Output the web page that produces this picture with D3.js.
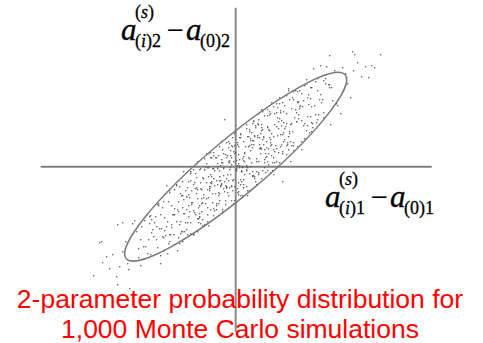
<!DOCTYPE html>
<html>
<head>
<meta charset="utf-8">
<script src="https://cdn.jsdelivr.net/npm/d3@7"></script>
<style>
  html, body { margin: 0; padding: 0; background: #fff; }
  svg { display: block; }
</style>
</head>
<body>
<svg id="chart"></svg>
<script>
/* eslint-disable */

// deviations of the simulated parameters from the reference values
// [a(i)1 - a(0)1, a(i)2 - a(0)2]
var simulations = [
  [0,-3],[-4,9],[3,-16],[-2,5],[6,-4],[-7,19],[1,0],[8,-21],[-5,11],[4,7],[-9,-20],[2,22],
  [7,0],[-3,29],[5,-18],[-6,4],[9,5],[-1,-34],[-8,11],[3,3],[-2,-13],[5,32],[-4,-19],[1,6],
  [7,-1],[-6,6],[2,-22],[-3,20],[8,6],[-9,-21],[0,36],[4,-1],[-1,13],[6,-15],[-5,-1],[3,-28],
  [3,20],[11,1],[18,22],[5,-13],[14,35],[1,-4],[12,-29],[17,26],[7,8],[15,0],[4,29],[19,-10],
  [9,13],[2,1],[13,20],[8,-13],[15,28],[6,-5],[11,38],[17,-10],[4,1],[12,30],[7,-29],[18,46],
  [1,-2],[10,20],[14,-7],[9,14],[16,4],[5,29],[13,9],[3,-25],[19,30],[8,10],[11,-4],
  [-12,-22],[-5,16],[-14,-17],[-9,24],[-3,-24],[-16,-4],[-8,-8],[-13,-43],[-2,15],[-19,-14],
  [-10,-19],[-6,23],[-11,-25],[-4,2],[-15,-19],[-7,5],[-17,-37],[-1,21],[-12,-9],[-9,-21],
  [-14,25],[-5,-8],[-18,0],[-8,-26],[-16,-10],[-10,-38],[-14,7],[-7,-14],[-12,-1],[-4,-20],
  [-17,11],[-9,-12],[-2,-37],[-15,1],[-6,-3],
  [11,-3],[22,43],[27,-4],[17,19],[25,19],[14,21],[29,4],[19,31],[12,-1],[23,47],[18,-9],
  [25,18],[16,34],[21,-18],[27,55],[14,8],[22,29],[17,-5],[28,29],[11,0],[20,41],[24,18],
  [19,-12],[26,36],[15,16],[23,5],[13,30],[29,17],[18,45],[21,-5],[16,22],[26,18],[12,-24],
  [-26,-24],[-18,-2],[-23,-36],[-12,-2],[-29,-32],[-20,9],[-16,-14],[-21,-44],[-14,4],[-25,-16],
  [-17,-26],[-27,-1],[-11,-15],[-22,14],[-19,-37],[-24,-15],[-15,-14],[-28,-55],[-18,3],[-26,-20],
  [-20,-27],[-24,9],[-17,-29],[-22,-12],[-14,-18],[-27,-10],[-19,-39],[-12,13],[-25,-20],
  [-16,-27],[-29,13],[-18,-18],[-13,4],
  [30,13],[34,55],[29,7],[36,33],[25,13],[33,37],[23,-6],[39,53],[28,22],[31,10],[26,57],
  [35,24],[22,31],[32,5],[24,22],[30,-6],[26,39],[33,18],[28,30],[36,11],[23,42],[31,19],
  [38,-8],[25,33],[34,29],[21,5],[32,51],[37,4],[27,27],[35,27],[24,29],
  [-30,0],[-34,-32],[-27,-59],[-32,-12],[-24,-17],[-37,-41],[-29,3],[-22,-42],[-35,-22],
  [-26,-22],[-39,-21],[-28,-41],[-23,-2],[-33,-36],[-25,9],[-36,-51],[-21,-19],[-31,-3],
  [-38,-65],[-27,13],[-32,-28],[-25,-8],[-34,-45],[-29,-16],[-23,-27],[-36,-3],[-28,-23],
  [-33,-53],[-22,-2],[-39,-27],[-30,-37],
  [34,52],[49,38],[39,4],[32,40],[43,38],[38,17],[45,56],[36,22],[41,63],[47,15],[34,36],
  [42,31],[37,-4],[48,55],[31,25],[40,21],[44,63],[39,15],[46,41],[35,21],[43,45],[33,2],
  [49,61],[38,30],[41,18],[36,64],[45,32],[32,39],
  [-40,-22],[-36,-47],[-41,-16],[-34,-37],[-45,-7],[-37,-52],[-47,-39],[-31,-3],[-42,-68],
  [-39,3],[-44,-38],[-35,-16],[-48,-56],[-38,-23],[-46,-45],[-40,-7],[-44,-36],[-37,-56],
  [-42,-18],[-34,-23],[-47,-50],[-39,-11],[-32,-31],[-45,-5],[-36,-50],[-49,-30],[-38,-32],
  [-33,-59],
  [50,40],[46,22],[53,78],[48,34],[56,58],[43,14],[51,43],[58,16],[45,54],[54,35],[41,40],
  [52,24],[57,69],[47,32],[55,5],[44,48],[59,49],[49,27],[42,59],[53,17],[48,44],[55,42],
  [46,46],[51,21],
  [-52,-47],[-45,-5],[-54,-65],[-49,-30],[-43,-36],[-56,-77],[-48,-21],[-53,-41],[-42,-44],
  [-59,-19],[-50,-56],[-46,-31],[-51,-47],[-44,-24],[-55,-67],[-47,-15],[-57,-45],[-41,-46],
  [-52,-5],[-49,-43],[-54,-29],[-45,-56],[-58,-43],[-48,-68],
  [63,52],[53,30],[69,81],[58,21],[61,54],[56,43],[65,61],[52,22],[62,65],[54,33],[60,76],
  [56,21],[63,48],[58,67],[66,17],[53,76],[61,45],[68,66],[55,25],[64,58],
  [-67,-35],[-59,-55],[-52,-33],[-65,-68],[-56,-20],[-69,-60],[-58,-84],[-53,-29],[-63,-48],
  [-55,-55],[-66,-26],[-51,-65],[-61,-42],[-68,-55],[-57,-35],[-62,-68],[-55,-27],[-64,-61],
  [-59,-18],[-53,-65],
  [61,45],[72,69],[77,43],[67,60],[75,50],[64,76],[79,61],[69,28],[62,64],[73,62],[68,41],
  [75,79],[66,46],[71,87],[77,39],[64,60],
  [-76,-62],[-68,-87],[-73,-41],[-62,-48],[-79,-73],[-70,-27],[-66,-68],[-71,-51],[-64,-58],
  [-75,-48],[-67,-77],[-77,-39],[-61,-48],[-72,-71],[-69,-19],[-74,-62],
  [76,44],[85,72],[72,50],[82,76],[74,34],[80,85],[76,60],[83,52],[78,98],[86,64],[73,72],[81,44],
  [-83,-63],[-75,-89],[-86,-50],[-71,-64],[-81,-56],[-88,-87],[-77,-37],[-82,-70],[-75,-97],
  [-84,-53],[-79,-60],[-73,-70],
  [93,82],[87,67],[95,42],[90,88],[84,67],[97,66],[91,100],[88,54],[94,79],
  [-92,-80],[-86,-57],[-95,-99],[-89,-48],[-84,-66],[-97,-91],[-91,-54],[-87,-73],[-94,-60],
  [102,61],[96,79],[105,53],[99,96],[108,77],[94,82],[101,63],
  [-103,-57],[-97,-82],[-106,-122],[-99,-65],[-95,-73],[-108,-97],[-101,-54],
  [112,83],[107,99],[115,69],[110,93],[118,96],
  [-113,-85],[-107,-103],[-116,-100],[-110,-75],[-118,-118],
  [122,104],[126,90],[119,112],[117,115],[85,101],[94,111],
  [-119,-110],[-123,-88],[-118,-58],[-126,-102],[-113,-56],
  [130,100],[136,101],[133,89],
  [-129,-90],[-134,-75],[-133,-96],
  [139,99],[145,112],
  [-136,-76],[-142,-109],
  [-11,47],[47,-15],
  // points near the rim of the ellipse
  [-85,-49],[-85,-88],[-78,-38],[-78,-81],[-72,-35],[-72,-84],[-66,-24],[-66,-75],
  [-61,-23],[-61,-78],[-57,-14],[-57,-71],[-53,-15],[-53,-75],[-49,-6],[-49,-63],
  [-45,-14],[-45,-67],[-42,-3],[-42,-68],[-38,5],[-38,-52],[-35,-2],[-35,-57],
  [-31,8],[-31,-58],[-28,-1],[-28,-48],[-25,14],[-25,-43],[-22,11],[-22,-49],
  [-19,9],[-19,-43],[-16,20],[-16,-34],[-13,17],[-13,-45],[-10,12],[-10,-34],
  [-7,25],[-7,-29],[-4,21],[-4,-34],[-1,33],[-1,-20],[2,24],[2,-26],
  [5,33],[5,-29],[8,25],[8,-18],[11,42],[11,-20],[14,37],[14,-24],
  [17,43],[17,-9],[20,39],[20,-15],[23,53],[23,-8],[26,42],[26,-12],
  [29,51],[29,-1],[32,57],[32,-4],[35,53],[35,-6],[38,60],[38,9],
  [41,54],[41,5],[44,69],[44,4],[47,64],[47,13],[51,71],[51,12],
  [54,67],[54,11],[58,75],[58,24],[62,75],[62,20],[66,73],[66,25],
  [71,83],[71,36],[76,79],[76,35],[82,88],[82,47],[88,86],[88,49],
  // points between the centre line and the rim
  [-64,-39],[-56,-58],[-47,-28],[-40,-48],[-33,-11],[-27,-31],[-21,-4],[-15,-20],
  [-9,9],[-3,-14],[3,12],[9,-8],[15,26],[21,8],[27,37],[33,13],[39,42],[45,20],
  [51,53],[57,35],[63,65],[69,43],[75,68],[-70,-69],[-50,-24],[-36,-39],[-24,-10],
  [-6,-21],[0,14],[6,-5],[18,26],[30,9],[42,49],[48,25],[60,57],[72,41],
  [-80,-50],[80,52],[-90,-80],[90,83]
]

// 95% region drawn over the cloud: semi-axes and tilt (degrees)
var regionAxes = [143, 28]
var regionTilt = 40

var axisIndex = ['2', '1']
var caption = ['2-parameter probability distribution for', '1,000 Monte Carlo simulations']

;(function () {
    'use strict'

    var W = 483,
        H = 343,
        cx = 235.7,
        cy = 166.7

    var svg = d3.select('#chart')
        .attr('width', W)
        .attr('height', H)

    var x = d3.scaleLinear().domain([-200, 200]).range([cx - 200, cx + 200])
    var y = d3.scaleLinear().domain([-160, 160]).range([cy + 160, cy - 160])

    var serif = "'Liberation Serif', 'Times New Roman', serif"

    // axes through the origin
    svg.append('line')
        .attr('x1', x(-195)).attr('x2', x(196))
        .attr('y1', y(0)).attr('y2', y(0))
        .attr('stroke', '#7f7f7f')
        .attr('stroke-width', 2)

    svg.append('line')
        .attr('x1', x(0)).attr('x2', x(0))
        .attr('y1', y(159)).attr('y2', y(-165))
        .attr('stroke', '#8a8a8a')
        .attr('stroke-width', 2)

    // simulated points
    svg.append('g')
        .selectAll('circle')
        .data(simulations)
        .enter()
        .append('circle')
        .attr('cx', function (d) { return x(d[0]) })
        .attr('cy', function (d) { return y(d[1]) })
        .attr('r', 0.8)
        .attr('fill', '#5a5a5a')

    // confidence ellipse
    svg.append('ellipse')
        .attr('cx', x(0))
        .attr('cy', y(0))
        .attr('rx', x(regionAxes[0]) - x(0))
        .attr('ry', x(regionAxes[1]) - x(0))
        .attr('transform', 'rotate(' + (-regionTilt) + ',' + x(0) + ',' + y(0) + ')')
        .attr('fill', 'none')
        .attr('stroke', '#7a7a7a')
        .attr('stroke-width', 1.5)

    // axis labels  a(i)k^(s) - a(0)k
    function label(x0, yb, k) {
        var g = svg.append('g')
            .attr('font-family', serif)
            .attr('fill', '#000')
            .attr('stroke', '#000')
            .attr('stroke-width', 0.3)

        g.append('text').attr('x', x0 - 1).attr('y', yb)
            .attr('font-size', 31).attr('font-style', 'italic').text('a')

        var sup = g.append('text').attr('x', x0 + 13).attr('y', yb - 22).attr('font-size', 18)
        sup.append('tspan').text('(')
        sup.append('tspan').attr('font-style', 'italic').text('s')
        sup.append('tspan').text(')')

        var sub = g.append('text').attr('x', x0 + 13).attr('y', yb + 6.5).attr('font-size', 18)
        sub.append('tspan').text('(')
        sub.append('tspan').attr('font-style', 'italic').text('i')
        sub.append('tspan').text(')' + k)

        g.append('text').attr('x', x0 + 45).attr('y', yb).attr('font-size', 30).text('\u2212')

        g.append('text').attr('x', x0 + 64).attr('y', yb)
            .attr('font-size', 31).attr('font-style', 'italic').text('a')

        g.append('text').attr('x', x0 + 78).attr('y', yb + 6.5).attr('font-size', 18)
            .text('(0)' + k)
    }

    label(122, 40, axisIndex[0])
    label(326, 207, axisIndex[1])

    // caption
    svg.append('g')
        .attr('font-family', "'Liberation Sans', Arial, sans-serif")
        .attr('font-size', 26.5)
        .attr('fill', '#ff0000')
        .attr('text-anchor', 'middle')
        .selectAll('text')
        .data(caption)
        .enter()
        .append('text')
        .attr('x', 240)
        .attr('y', function (d, i) { return 308 + i * 29.5 })
        .text(function (d) { return d })
})()

/* eslint-enable */
</script>
</body>
</html>
